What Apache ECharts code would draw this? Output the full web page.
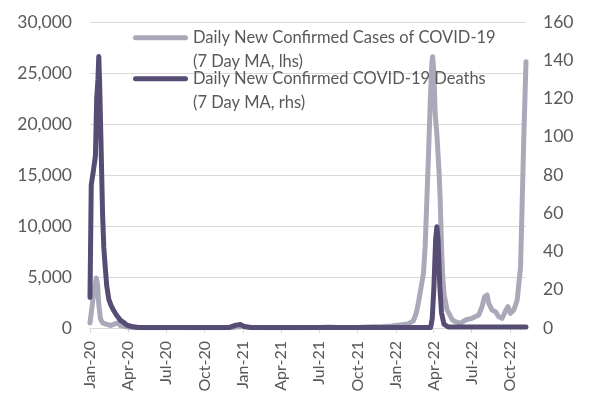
<!DOCTYPE html>
<html>
<head>
<meta charset="utf-8">
<script src="https://cdn.jsdelivr.net/npm/echarts@6/dist/echarts.min.js"></script>
<style>
  html, body { margin: 0; padding: 0; background: #fff; }
  #covid-chart { width: 589px; height: 405px; }
</style>
</head>
<body>
<div id="covid-chart"></div>
<script>
// 7-day moving averages
var caseDates = ['2020-01-22','2020-01-25','2020-01-29','2020-02-02','2020-02-06','2020-02-09','2020-02-12','2020-02-16','2020-02-21','2020-03-02','2020-03-12','2020-03-24','2020-03-29','2020-04-03','2020-04-21','2020-05-11','2020-05-31','2020-07-10','2020-08-09','2020-09-28','2020-11-17','2021-01-01','2021-01-11','2021-01-21','2021-02-05','2021-03-17','2021-05-16','2021-07-25','2021-08-14','2021-09-03','2021-10-23','2021-11-12','2021-12-22','2022-01-11','2022-02-01','2022-02-20','2022-03-05','2022-03-12','2022-03-17','2022-03-25','2022-03-29','2022-04-02','2022-04-06','2022-04-10','2022-04-14','2022-04-18','2022-04-20','2022-04-23','2022-04-26','2022-04-30','2022-05-05','2022-05-08','2022-05-11','2022-05-14','2022-05-17','2022-05-24','2022-06-06','2022-06-13','2022-06-25','2022-07-07','2022-07-23','2022-08-08','2022-08-16','2022-08-22','2022-08-28','2022-09-01','2022-09-09','2022-09-17','2022-09-25','2022-10-03','2022-10-12','2022-10-17','2022-10-23','2022-10-31','2022-11-08','2022-11-16','2022-11-20','2022-11-24','2022-11-29']
var caseValues = [500,1500,2800,4000,4900,4300,2300,900,500,350,250,450,500,250,80,40,20,30,40,30,20,60,120,130,60,20,20,60,110,40,50,90,150,200,300,400,700,1500,2500,4400,5400,8000,12500,17000,22000,26000,26600,25000,21000,19000,15500,12500,8000,5000,3400,1800,800,620,460,780,950,1270,2100,3070,3240,2420,1760,1600,1100,950,1760,2100,1440,1760,2750,6000,12500,19100,26100]

var deathDates = ['2020-01-22','2020-01-25','2020-01-30','2020-02-04','2020-02-07','2020-02-10','2020-02-12','2020-02-14','2020-02-17','2020-02-19','2020-02-21','2020-02-24','2020-02-27','2020-03-02','2020-03-07','2020-03-12','2020-03-19','2020-03-26','2020-04-04','2020-04-11','2020-04-19','2020-05-01','2020-05-16','2020-12-20','2021-01-05','2021-01-15','2021-01-25','2021-02-10','2022-04-15','2022-04-19','2022-04-23','2022-04-27','2022-04-30','2022-05-03','2022-05-07','2022-05-11','2022-05-17','2022-05-27','2022-11-29']
var deathValues = [16,75,82,90,120,130,142,128,100,80,60,42,33,22,15,12,9,6.5,4,3,1.5,0.8,0.3,0.3,1.5,1.8,0.8,0.3,0.3,5,22,46,53,46,22,8,2,0.5,0.5]

// x axis: one category per day, labels every quarter
var firstDay = '2020-01-22'
var lastDay = '2022-11-29'
var tickDates = ['2020-01-22','2020-04-22','2020-07-22','2020-10-22','2021-01-22','2021-04-22','2021-07-22','2021-10-22','2022-01-22','2022-04-22','2022-07-22','2022-10-22']
var tickLabels = ['Jan-20','Apr-20','Jul-20','Oct-20','Jan-21','Apr-21','Jul-21','Oct-21','Jan-22','Apr-22','Jul-22','Oct-22']

var caseTicks = [0, 5000, 10000, 15000, 20000, 25000, 30000]
var deathTicks = [0, 20, 40, 60, 80, 100, 120, 140, 160]

var caseName = 'Daily New Confirmed Cases of COVID-19\n(7 Day MA, lhs)'
var deathName = 'Daily New Confirmed COVID-19 Deaths\n(7 Day MA, rhs)'

function dayList(from, to) {
  var out = []
  var d = new Date(from + 'T00:00:00Z')
  var end = new Date(to + 'T00:00:00Z')
  while (d <= end) {
    out.push(d.toISOString().slice(0, 10))
    d.setUTCDate(d.getUTCDate() + 1)
  }
  return out
}

function pairs(dates, values) {
  return dates.map(function (d, i) { return [d, values[i]] })
}

function initChart() {
  var myChart = echarts.init(document.getElementById('covid-chart'))
  var textColor = '#595959'
  var gridColor = '#D9D9D9'
  var isTick = function (index, value) { return tickDates.indexOf(value) !== -1 }

  var option = {
    animation: false,
    textStyle: { fontFamily: 'Lato' },
    grid: { left: 90, right: 63, top: 22, bottom: 77 },
    legend: {
      orient: 'vertical',
      left: 133,
      top: 26,
      padding: 0,
      itemWidth: 55,
      itemHeight: 47,
      itemGap: -6,
      selectedMode: false,
      // rounded bar on the first text line; tiny end points fix the box size
      icon: 'path://M0,0L0.01,0M2.5,9.3H52.5A2.5,2.5,0,0,1,52.5,14.3H2.5A2.5,2.5,0,0,1,2.5,9.3ZM55,47L54.99,47',
      itemStyle: { borderWidth: 0 },
      textStyle: { color: textColor, fontSize: 16.5, lineHeight: 23.5, fontFamily: 'Lato' },
      data: [caseName, deathName]
    },
    xAxis: {
      type: 'category',
      boundaryGap: false,
      data: dayList(firstDay, lastDay),
      axisLine: { lineStyle: { color: gridColor, width: 1 } },
      axisTick: { show: true, interval: isTick, length: 5, lineStyle: { color: gridColor } },
      axisLabel: {
        interval: isTick,
        rotate: 90,
        margin: 13,
        color: textColor,
        fontSize: 16,
        formatter: function (v) { return tickLabels[tickDates.indexOf(v)] }
      },
      splitLine: { show: false }
    },
    yAxis: [
      {
        type: 'value',
        min: caseTicks[0],
        max: caseTicks[caseTicks.length - 1],
        interval: caseTicks[1] - caseTicks[0],
        axisLine: { show: false },
        axisTick: { show: false },
        axisLabel: {
          margin: 18,
          color: textColor,
          fontSize: 17.5,
          formatter: function (v) { return v.toLocaleString('en-US') }
        },
        splitLine: { lineStyle: { color: gridColor, width: 1 } }
      },
      {
        type: 'value',
        min: deathTicks[0],
        max: deathTicks[deathTicks.length - 1],
        interval: deathTicks[1] - deathTicks[0],
        axisLine: { show: false },
        axisTick: { show: false },
        axisLabel: { margin: 17, color: textColor, fontSize: 17.5 },
        splitLine: { show: false }
      }
    ],
    series: [
      {
        name: caseName,
        type: 'line',
        yAxisIndex: 0,
        showSymbol: false,
        symbol: 'none',
        color: '#AAA9BA',
        lineStyle: { width: 5, cap: 'round', join: 'round' },
        data: pairs(caseDates, caseValues)
      },
      {
        name: deathName,
        type: 'line',
        yAxisIndex: 1,
        showSymbol: false,
        symbol: 'none',
        color: '#564C74',
        lineStyle: { width: 5, cap: 'round', join: 'round' },
        data: pairs(deathDates, deathValues)
      }
    ]
  }
  myChart.setOption(option)
}

initChart()
</script>
</body>
</html>
